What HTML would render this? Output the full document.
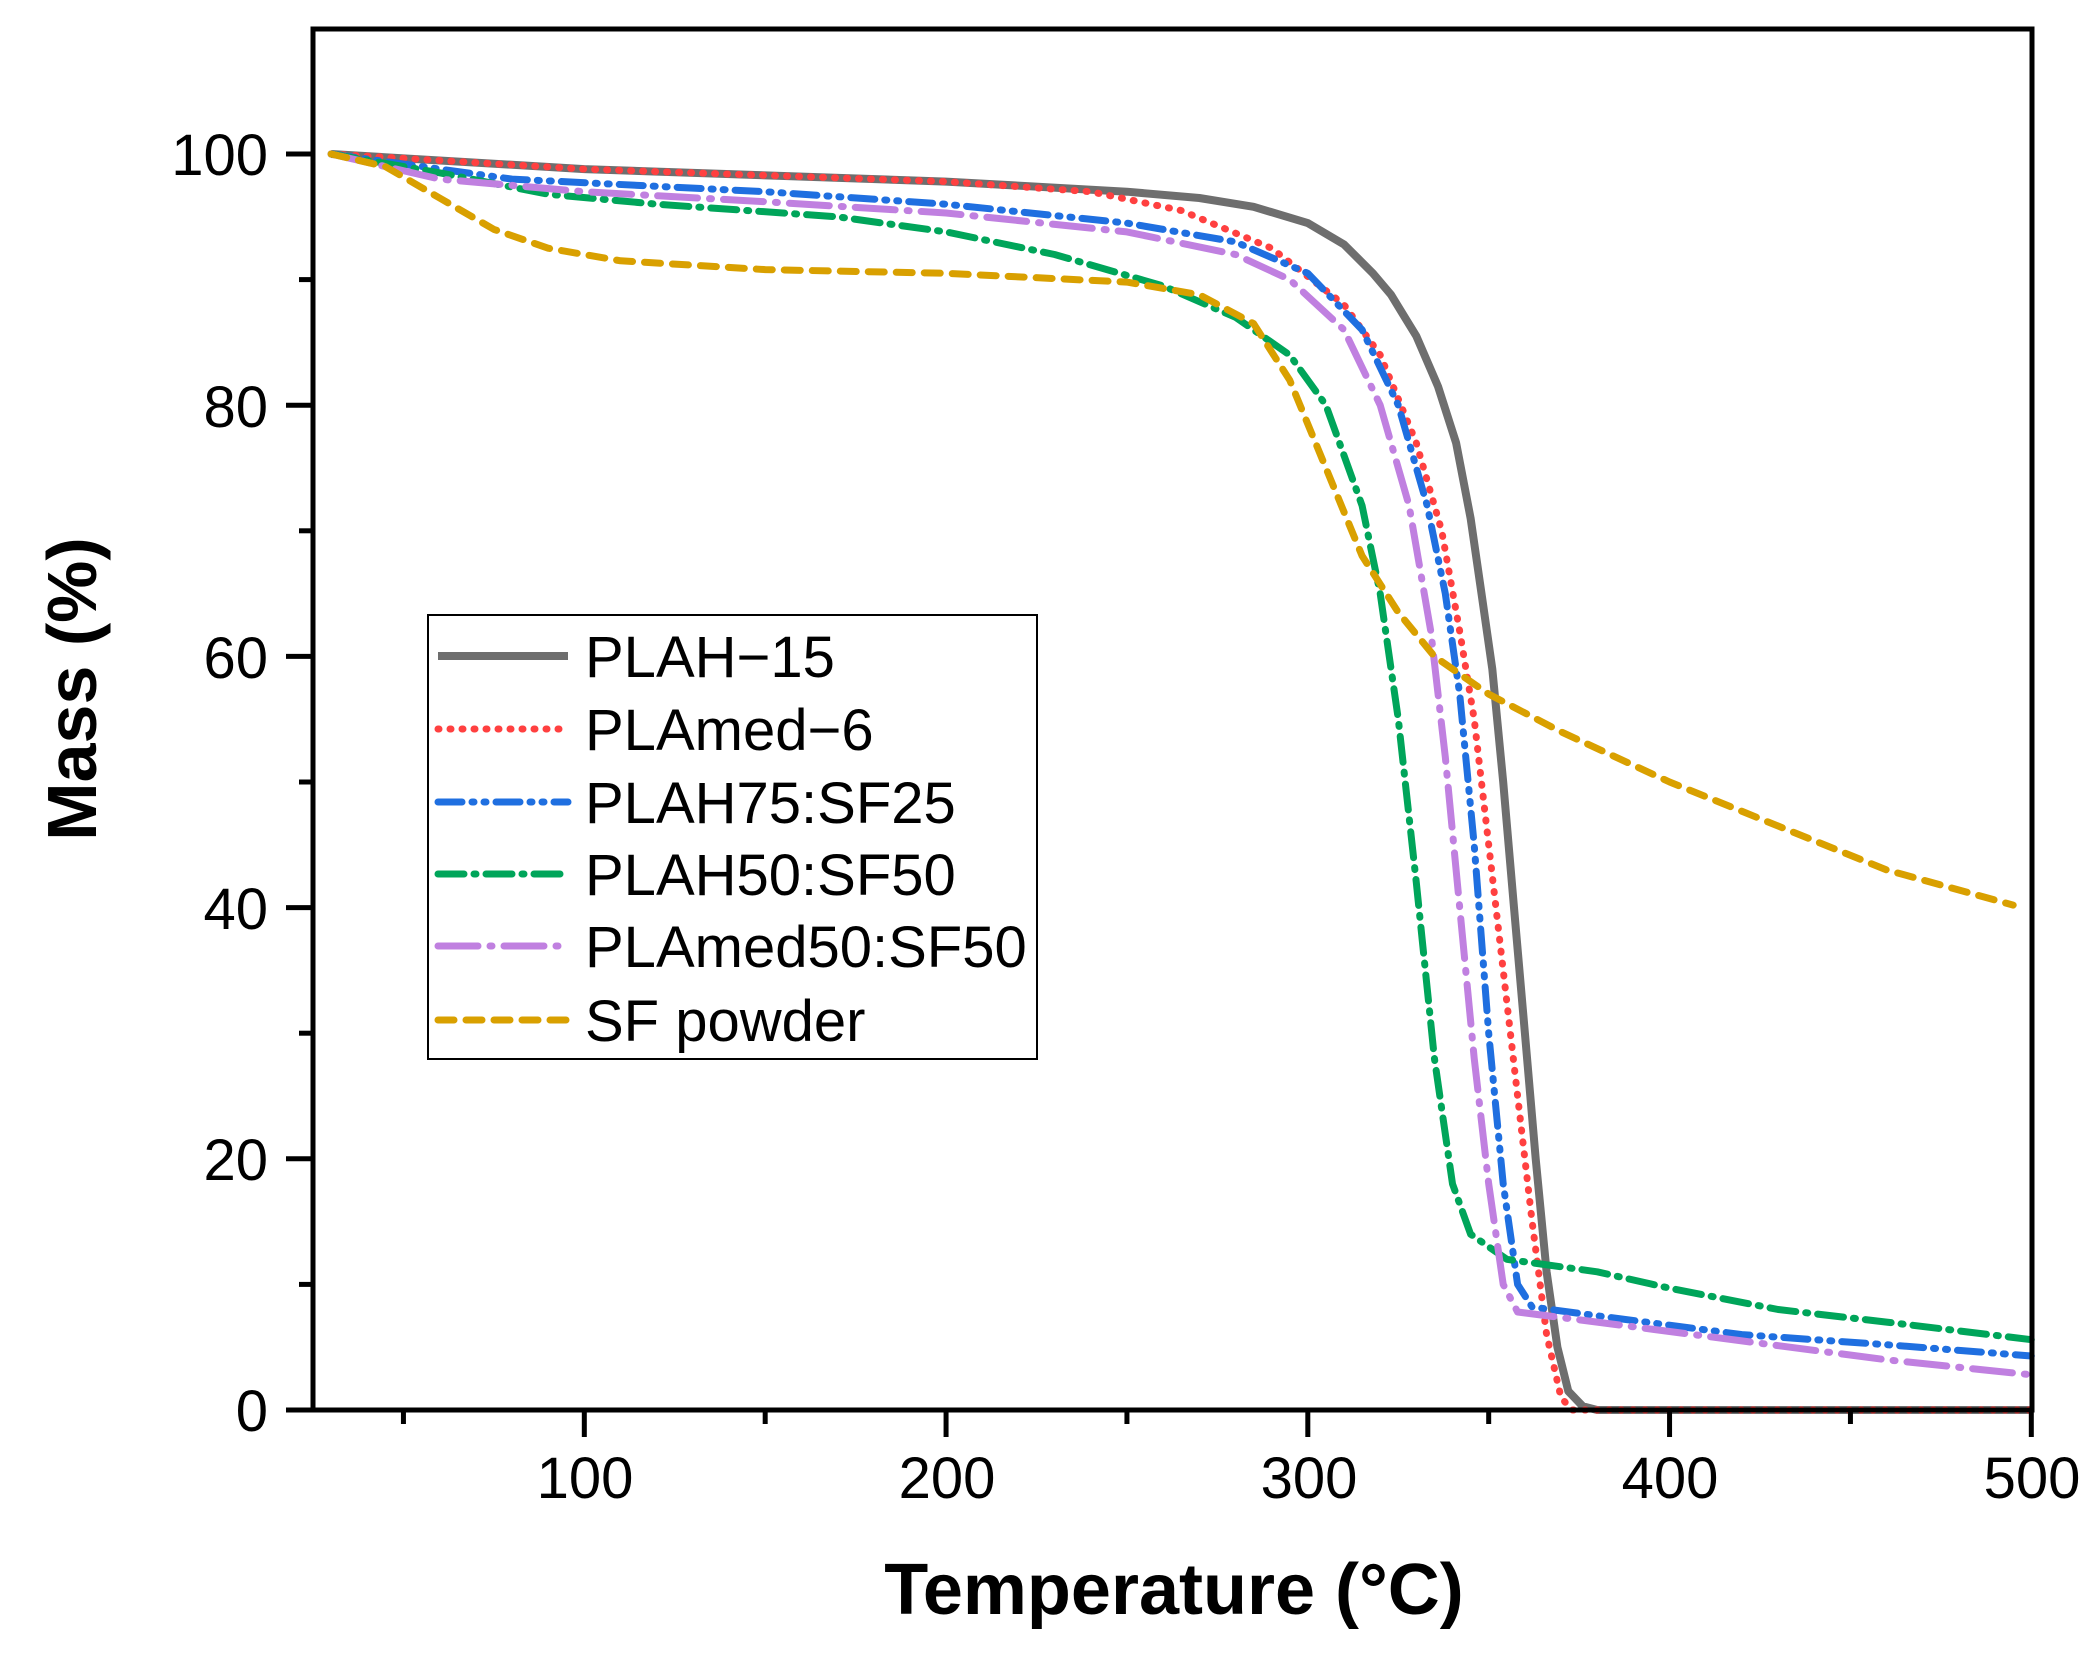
<!DOCTYPE html>
<html><head><meta charset="utf-8"><style>
html,body{margin:0;padding:0;background:#fff;}
svg{display:block;font-family:"Liberation Sans",Arial,sans-serif;}
</style></head><body>
<svg id="s" width="2092" height="1659" viewBox="0 0 2092 1659" xmlns="http://www.w3.org/2000/svg">
<rect width="2092" height="1659" fill="#fff"/>
<g id="curves"></g>
<rect x="313" y="29" width="1719" height="1381" fill="none" stroke="#000" stroke-width="5"/>
<g id="ticks" stroke="#000" stroke-width="5"></g>
<g font-size="58" text-anchor="end" fill="#000">
<text x="268" y="1431">0</text>
<text x="268" y="1180">20</text>
<text x="268" y="929">40</text>
<text x="268" y="678">60</text>
<text x="268" y="427">80</text>
<text x="268" y="175">100</text>
</g>
<g font-size="58" text-anchor="middle" fill="#000">
<text x="585" y="1498">100</text>
<text x="947" y="1498">200</text>
<text x="1309" y="1498">300</text>
<text x="1670" y="1498">400</text>
<text x="2032" y="1498">500</text>
</g>
<text x="1174" y="1614" font-size="72" font-weight="bold" text-anchor="middle">Temperature (°C)</text>
<text transform="translate(96,689) rotate(-90)" font-size="70" font-weight="bold" text-anchor="middle">Mass (%)</text>
<rect x="428" y="615" width="609" height="444" fill="#fff" stroke="#000" stroke-width="2"/>
<g id="leg"></g>
</svg>
<script>
var X=function(t){return 313+(t-25)*3.6175;},Y=function(m){return 1410-m*12.56;};
var ns="http://www.w3.org/2000/svg";
var series=[
["PLAH\u221215","#6e6e6e","",[[30,100],[100,98.8],[200,97.8],[250,97],[270,96.5],[285,95.8],[300,94.5],[310,92.8],[318,90.5],[323,88.8],[330,85.5],[336,81.5],[341,77],[345,71],[348,65],[351,59],[354,50],[357,40],[360,30],[363,20],[366,11],[369,5],[372,1.5],[376,0.3],[380,0],[500,0]]],
["PLAmed\u22126","#ff4040","1 11",[[30,100],[100,98.8],[200,97.8],[240,97],[265,95.5],[290,92.5],[310,88],[320,84],[330,77],[337,70],[342,62],[346,55],[350,45],[354,35],[358,25],[362,15],[366,6],[370,1],[373,0],[500,0]]],
["PLAH75:SF25","#1f6fe0","24 10 2 10 2 10",[[30,100],[80,98],[150,97],[200,96],[250,94.5],[280,93],[300,90.5],[315,86],[325,80],[333,72],[338,65],[342,57],[346,45],[350,30],[354,18],[358,10],[362,8.2],[380,7.5],[420,6],[460,5.2],[500,4.3]]],
["PLAH50:SF50","#00a55a","26 10 2 10",[[30,100],[60,98.5],[90,96.8],[120,96],[170,95],[200,93.8],[230,92],[260,89.5],[280,87],[295,84],[305,80],[315,72],[320,65],[325,55],[330,42],[335,28],[340,18],[345,14],[355,12],[380,11],[400,9.7],[430,8],[460,7],[500,5.6]]],
["PLAmed50:SF50","#c080e0","40 12 2 12",[[30,100],[60,98],[100,97],[150,96.2],[200,95.3],[250,93.8],[280,92],[295,90],[310,86],[320,80],[328,72],[334,62],[338,52],[342,40],[346,28],[350,18],[354,10],[358,7.8],[380,7],[420,5.5],[460,4],[500,2.8]]],
["SF powder","#d9a000","16 12",[[30,100],[45,99],[60,96.5],[75,94],[90,92.5],[110,91.5],[150,90.8],[200,90.5],[250,89.8],[270,88.8],[285,86.5],[295,82],[305,75],[315,68],[325,63.5],[335,60],[350,57],[370,54],[400,50],[430,46.5],[460,43],[495,40.2]]]
];
var cg=document.getElementById("curves"),lg=document.getElementById("leg");
var ly=[656,729,802,874,946,1020];
series.forEach(function(s,i){
 var p=document.createElementNS(ns,"polyline");
 p.setAttribute("points",s[3].map(function(q){return X(q[0]).toFixed(1)+","+Y(q[1]).toFixed(1);}).join(" "));
 p.setAttribute("fill","none");p.setAttribute("stroke",s[1]);p.setAttribute("stroke-width",i==0?8:7);
 p.setAttribute("stroke-linejoin","round");
 if(s[2]){p.setAttribute("stroke-dasharray",s[2]);p.setAttribute("stroke-linecap","round");}
 cg.appendChild(p);
 var l=document.createElementNS(ns,"line");
 l.setAttribute("x1",438);l.setAttribute("x2",568);l.setAttribute("y1",ly[i]);l.setAttribute("y2",ly[i]);
 l.setAttribute("stroke",s[1]);l.setAttribute("stroke-width",i==0?8:7);
 if(s[2]){l.setAttribute("stroke-dasharray",s[2]);l.setAttribute("stroke-linecap","round");}
 lg.appendChild(l);
 var t=document.createElementNS(ns,"text");
 t.setAttribute("x",585);t.setAttribute("y",ly[i]+21);t.setAttribute("font-size","58");t.textContent=s[0];
 lg.appendChild(t);
});
var tg=document.getElementById("ticks");
function ln(a,b,c,d){var l=document.createElementNS(ns,"line");l.setAttribute("x1",a);l.setAttribute("y1",b);l.setAttribute("x2",c);l.setAttribute("y2",d);tg.appendChild(l);}
for(var m=0;m<=100;m+=10){var y=Y(m);ln(313,y,m%20==0?286:299,y);}
for(var t=50;t<=500;t+=50){var x=X(t);ln(x,1410,x,t%100==0?1437:1424);}
</script>
</body></html>
